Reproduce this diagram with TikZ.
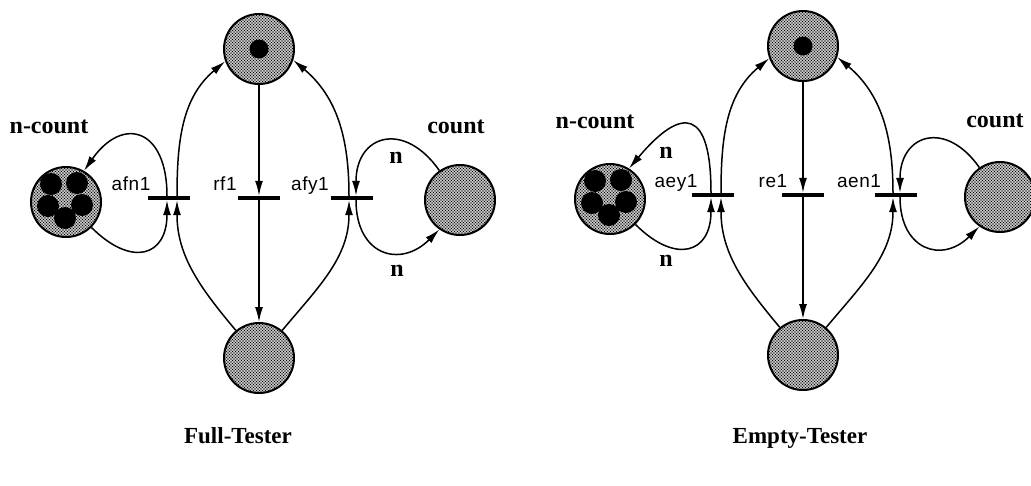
\documentclass[tikz,border=0pt]{standalone}
\usepackage{fontspec}
\setmainfont{Liberation Serif}
\newfontfamily\labelfont[LetterSpace=3]{Liberation Sans}
\usetikzlibrary{arrows.meta,calc,patterns}

% fine halftone used to shade the places
\pgfdeclarepatternformonly{halftone}{\pgfqpoint{-1pt}{-1pt}}{\pgfqpoint{4pt}{4pt}}{\pgfqpoint{3pt}{3pt}}{%
  \pgfpathcircle{\pgfqpoint{0pt}{0pt}}{0.8pt}%
  \pgfpathcircle{\pgfqpoint{1.5pt}{1.5pt}}{0.8pt}%
  \pgfusepath{fill}}

\tikzset{
  place/.style={circle, draw, line width=2pt, pattern=halftone, minimum size=70pt, inner sep=0pt},
  token/.style={circle, fill=black, inner sep=0pt, minimum size=#1},
  trans/.style={rectangle, fill=black, minimum width=42pt, minimum height=4pt, inner sep=0pt},
  flow/.style={line width=1.5pt, -{Latex[length=15pt,width=8pt]}},
  tname/.style={font=\labelfont\fontsize{19}{22}\selectfont, anchor=base, inner sep=0pt},
  ttl/.style={font=\bfseries\fontsize{24}{28}\selectfont, anchor=base, inner sep=0pt},
  wt/.style={font=\bfseries\fontsize{24}{28}\selectfont, anchor=center, inner sep=0pt},
}

\begin{document}
\begin{tikzpicture}[x=1pt,y=1pt]
\useasboundingbox (0,0) rectangle (1031,-485);

% ---------------- Full-Tester ----------------
\node[place] (topL) at (259,-49) {};
\node[token=19pt] (tkL) at (topL) {};
\node[place] (botL) at (259,-358) {};
\node[place] (ncL) at (66,-202) {};
\foreach \dx/\dy [count=\i] in {-15/18, 11/19, -18/-4, 16/-3, -1/-16}
  \node[token=22pt] (ncLt\i) at ($(ncL)+(\dx,\dy)$) {};
\node[place] (cntL) at (460,-200) {};

\node[trans] (afn1) at (169,-198) {};
\node[trans] (rf1) at (259,-198) {};
\node[trans] (afy1) at (352,-198) {};

\draw[flow] (botL.130) to[out=130,in=-90] ($(afn1.south)+(8,0)$);
\draw[flow] ($(afn1.north)+(8,0)$) to[out=90,in=220] (topL.200);
\draw[flow] (topL.south) -- (rf1.north);
\draw[flow] (rf1.south) -- (botL.north);
\draw[flow] (botL.50) to[out=50,in=-90] ($(afy1.south)+(-3,0)$);
\draw[flow] ($(afy1.north)+(-3,0)$) to[out=90,in=-40] (topL.-18);

\draw[flow] ($(afn1.north)+(-2,0)$) to[out=90,in=55,looseness=2] (ncL.60);
\draw[flow] (ncL.-45) to[out=-45,in=-90,looseness=1.8] ($(afn1.south)+(-2,0)$);
\draw[flow] (cntL.125) to[out=125,in=90,looseness=1.8] ($(afy1.north)+(4,0)$);
\draw[flow] ($(afy1.south)+(4,0)$) to[out=-90,in=-135,looseness=1.6] (cntL.-125);

\node[tname] (lafn1) at (131,-190) {afn1};
\node[tname] (lrf1) at (225,-190) {rf1};
\node[tname] (lafy1) at (310,-190) {afy1};
\node[ttl] (lncL) at (49,-133) {n-count};
\node[ttl] (lcntL) at (456,-133) {count};
\node[wt] (wL1) at (396,-158) {n};
\node[wt] (wL2) at (397,-271) {n};

% ---------------- Empty-Tester ----------------
\begin{scope}[shift={(544,3)}]
\node[place] (topR) at (259,-49) {};
\node[token=19pt] (tkR) at (topR) {};
\node[place] (botR) at (259,-358) {};
\node[place] (ncR) at (66,-202) {};
\foreach \dx/\dy [count=\i] in {-15/18, 11/19, -18/-4, 16/-3, -1/-16}
  \node[token=22pt] (ncRt\i) at ($(ncR)+(\dx,\dy)$) {};
\node[place] (cntR) at (456,-200) {};

\node[trans] (aey1) at (169,-198) {};
\node[trans] (re1) at (259,-198) {};
\node[trans] (aen1) at (352,-198) {};

\draw[flow] (botR.130) to[out=130,in=-90] ($(aey1.south)+(8,0)$);
\draw[flow] ($(aey1.north)+(8,0)$) to[out=90,in=220] (topR.200);
\draw[flow] (topR.south) -- (re1.north);
\draw[flow] (re1.south) -- (botR.north);
\draw[flow] (botR.50) to[out=50,in=-90] ($(aen1.south)+(-3,0)$);
\draw[flow] ($(aen1.north)+(-3,0)$) to[out=90,in=-40] (topR.-18);

\draw[flow] ($(aey1.north)+(-2,0)$) to[out=90,in=50,looseness=2.5] (ncR.58);
\draw[flow] (ncR.-45) to[out=-45,in=-90,looseness=1.8] ($(aey1.south)+(-2,0)$);
\draw[flow] (cntR.125) to[out=125,in=90,looseness=1.8] ($(aen1.north)+(4,0)$);
\draw[flow] ($(aen1.south)+(4,0)$) to[out=-90,in=-135,looseness=1.6] (cntR.-125);

\node[tname] (laey1) at (132,-190) {aey1};
\node[tname] (lre1) at (229,-190) {re1};
\node[tname] (laen1) at (315,-190) {aen1};
\node[ttl] (lncR) at (51,-131) {n-count};
\node[ttl] (lcntR) at (451,-130) {count};
\node[wt] (wR1) at (122,-156) {n};
\node[wt] (wR2) at (122,-264) {n};
\end{scope}

% ---------------- titles ----------------
\node[ttl, font=\bfseries\fontsize{23}{28}\selectfont] (tFull) at (238,-443) {Full-Tester};
\node[ttl, font=\bfseries\fontsize{23}{28}\selectfont] (tEmpty) at (800,-443) {Empty-Tester};
\end{tikzpicture}
\end{document}
